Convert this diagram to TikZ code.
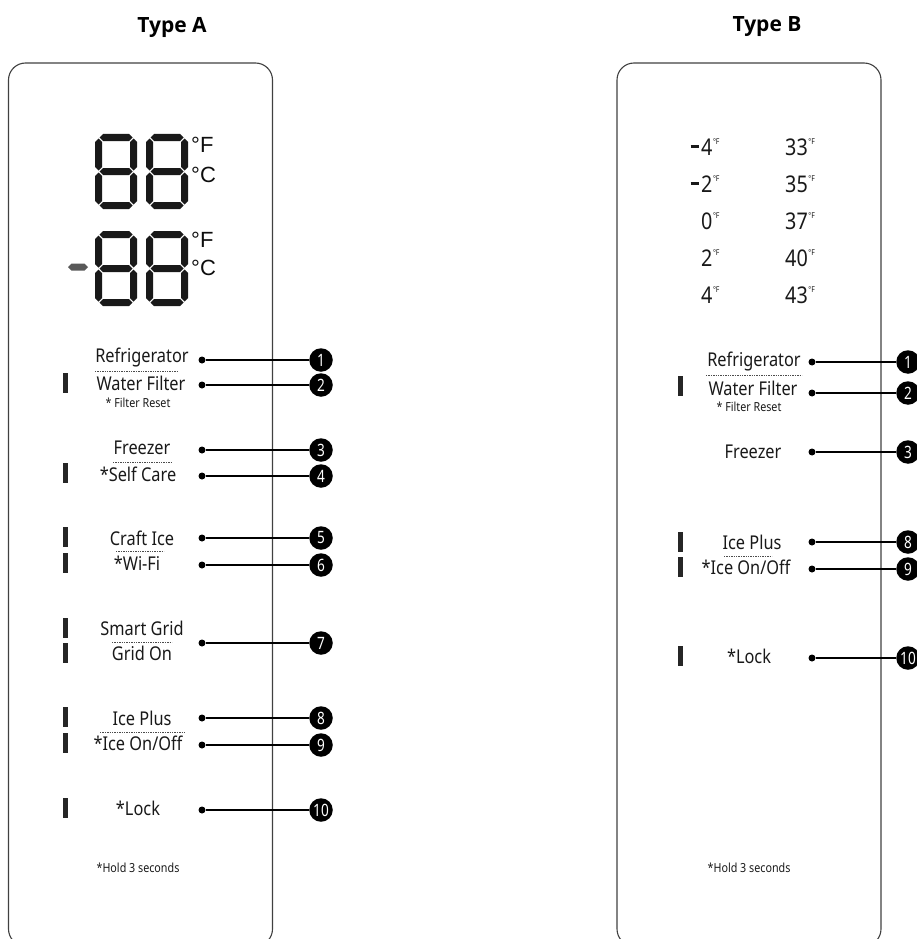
\documentclass[tikz,border=0pt]{standalone}
\usepackage{fontspec}
\newfontfamily\lblfont[FakeStretch=0.86]{Noto Sans}
\newfontfamily\numfont[FakeStretch=0.8]{Noto Sans}
\newfontfamily\titlefont{Open Sans}
\newfontfamily\lcdfont{Liberation Sans}
\newcommand{\hseg}[1]{\fill[segment] (4.5,#1) -- ++(3.5,-3.5) -- ++(26,0) -- ++(3.5,3.5) -- ++(-3.5,3.5) -- ++(-26,0) -- cycle;}
\newcommand{\vseg}[2]{\fill[segment] (#1,#2) -- ++(3.5,3.5) -- ++(0,25) -- ++(-3.5,3.5) -- ++(-3.5,-3.5) -- ++(0,-25) -- cycle;}
\newcommand{\lcddigit}[2]{%
  \begin{scope}[shift={(#1,#2)}]
    \hseg{3.5}\hseg{37.5}\hseg{71.5}
    \vseg{3.5}{4.5}\vseg{3.5}{38.5}\vseg{38.5}{4.5}\vseg{38.5}{38.5}
  \end{scope}}
\newcommand{\degF}{\kern0.5pt\raisebox{11pt}{\fontsize{8}{8}\selectfont °F}}
\newcommand{\tempminus}{\llap{\rule[7pt]{8.5pt}{3pt}\kern2pt}}

\begin{document}
\begin{tikzpicture}[x=1pt,y=-1pt]
\tikzstyle{panel}=[draw=black!75,line width=1.1pt,rounded corners=17pt]
\tikzstyle{segment}=[fill=black!90]
\tikzstyle{minusseg}=[fill=black!65]
\tikzstyle{title}=[inner sep=0pt,font=\titlefont\bfseries\fontsize{21}{24}\selectfont]
\tikzstyle{lbl}=[inner sep=0pt,text=black!90,font=\lblfont\fontsize{19}{22}\selectfont]
\tikzstyle{small}=[inner sep=0pt,text=black!90,font=\lblfont\fontsize{12.5}{14}\selectfont]
\tikzstyle{temp}=[inner sep=0pt,anchor=base west,text=black!90,font=\lblfont\fontsize{23}{25}\selectfont]
\tikzstyle{lcd}=[inner sep=0pt,anchor=west,text=black!95,font=\lcdfont\fontsize{22}{24}\selectfont]
\tikzstyle{bar}=[fill=black!85,minimum width=5pt,minimum height=20pt,inner sep=0pt]
\tikzstyle{dot}=[circle,fill=black,minimum size=7pt,inner sep=0pt]
\tikzstyle{num}=[circle,fill=black,text=white,minimum size=23.5pt,inner sep=0pt,font=\numfont\bfseries\fontsize{17}{17}\selectfont]
\tikzstyle{lead}=[draw,line width=1.6pt]
\tikzstyle{sep}=[draw=black!70,line width=0.6pt,dash pattern=on 1.4pt off 1pt]

\clip (0,0) rectangle (917,939);

% panels and titles
\draw[panel] (8.5,63) rectangle (272.5,946);
\draw[panel] (617,63) rectangle (881,946);
\node[title] (typeA) at (172,27) {Type A};
\node[title] (typeB) at (767,27) {Type B};

% Type A display
\lcddigit{95}{134}
\lcddigit{146}{134}
\lcddigit{95}{231}
\lcddigit{146}{231}
\fill[minusseg] (68,267) -- ++(3.5,-3.5) -- ++(13,0) -- ++(3.5,3.5) -- ++(-3.5,3.5) -- ++(-13,0) -- cycle;
\node[lcd] (fA1) at (191,145) {°F};
\node[lcd] (cA1) at (191,175) {°C};
\node[lcd] (fA2) at (191,240) {°F};
\node[lcd] (cA2) at (191,268) {°C};

% Type A buttons
\node[lbl] (refA) at (142,358) {Refrigerator};
\node[lbl] (wfA) at (141,383) {Water Filter};
\node[small] (frA) at (138,403) {* Filter Reset};
\node[lbl] (fzA) at (142,448) {Freezer};
\node[lbl] (scA) at (138,474) {*Self Care};
\node[lbl] (ciA) at (142,538) {Craft Ice};
\node[lbl] (wiA) at (137,563) {*Wi-Fi};
\node[lbl] (sgA) at (142,628) {Smart Grid};
\node[lbl] (goA) at (142,653) {Grid On};
\node[lbl] (ipA) at (142,718) {Ice Plus};
\node[lbl] (ioA) at (138,743) {*Ice On/Off};
\node[lbl] (lkA) at (138,808) {*Lock};
\node[small] (holdA) at (138,868) {*Hold 3 seconds};

\draw[sep] (95,371) -- (178,371);
\draw[sep] (113,462) -- (172,462);
\draw[sep] (116,551) -- (164,551);
\draw[sep] (112,642) -- (172,642);
\draw[sep] (100,732) -- (185,732);

\node[bar] (bA2) at (65,383) {};
\node[bar] (bA4) at (65,473) {};
\node[bar] (bA5) at (65,537) {};
\node[bar] (bA6) at (65,563) {};
\node[bar] (bA7a) at (65,628) {};
\node[bar] (bA7b) at (65,653) {};
\node[bar] (bA8) at (65,717) {};
\node[bar] (bA9) at (65,743) {};
\node[bar] (bA10) at (65,808) {};

\node[dot] (dA1) at (202,360) {};
\node[dot] (dA2) at (202,385) {};
\node[dot] (dA3) at (202,450) {};
\node[dot] (dA4) at (202,476) {};
\node[dot] (dA5) at (202,538) {};
\node[dot] (dA6) at (202,565) {};
\node[dot] (dA7) at (202,643) {};
\node[dot] (dA8) at (202,718) {};
\node[dot] (dA9) at (202,745) {};
\node[dot] (dA10) at (202,810) {};

\node[num] (nA1) at (321,360) {1};
\node[num] (nA2) at (321,385) {2};
\node[num] (nA3) at (321,450) {3};
\node[num] (nA4) at (321,476) {4};
\node[num] (nA5) at (321,538) {5};
\node[num] (nA6) at (321,565) {6};
\node[num] (nA7) at (321,643) {7};
\node[num] (nA8) at (321,718) {8};
\node[num] (nA9) at (321,745) {9};
\node[num] (nA10) at (321,810) {10};

\path (dA1) edge[lead] (nA1);
\path (dA2) edge[lead] (nA2);
\path (dA3) edge[lead] (nA3);
\path (dA4) edge[lead] (nA4);
\path (dA5) edge[lead] (nA5);
\path (dA6) edge[lead] (nA6);
\path (dA7) edge[lead] (nA7);
\path (dA8) edge[lead] (nA8);
\path (dA9) edge[lead] (nA9);
\path (dA10) edge[lead] (nA10);

% Type B temperatures
\node[temp] (tl1) at (701,155) {\tempminus4\degF};
\node[temp] (tl2) at (701,192) {\tempminus2\degF};
\node[temp] (tl3) at (701,229) {0\degF};
\node[temp] (tl4) at (701,266) {2\degF};
\node[temp] (tl5) at (701,303) {4\degF};
\node[temp] (tr1) at (785,155) {33\degF};
\node[temp] (tr2) at (785,192) {35\degF};
\node[temp] (tr3) at (785,229) {37\degF};
\node[temp] (tr4) at (785,266) {40\degF};
\node[temp] (tr5) at (785,303) {43\degF};

% Type B buttons
\node[lbl] (refB) at (754,362) {Refrigerator};
\node[lbl] (wfB) at (753,388) {Water Filter};
\node[small] (frB) at (749,407) {* Filter Reset};
\node[lbl] (fzB) at (753,452) {Freezer};
\node[lbl] (ipB) at (752,542) {Ice Plus};
\node[lbl] (ioB) at (746,567) {*Ice On/Off};
\node[lbl] (lkB) at (749,656) {*Lock};
\node[small] (holdB) at (749,868) {*Hold 3 seconds};

\draw[sep] (706,375) -- (802,375);
\draw[sep] (724,556) -- (772,556);

\node[bar] (bB2) at (680,386) {};
\node[bar] (bB8) at (680,542) {};
\node[bar] (bB9) at (680,567) {};
\node[bar] (bB10) at (680,656) {};

\node[dot] (dB1) at (812,362) {};
\node[dot] (dB2) at (812,393) {};
\node[dot] (dB3) at (812,452) {};
\node[dot] (dB8) at (812,542) {};
\node[dot] (dB9) at (812,569) {};
\node[dot] (dB10) at (812,658) {};

\node[num] (nB1) at (908,362) {1};
\node[num] (nB2) at (908,393) {2};
\node[num] (nB3) at (908,452) {3};
\node[num] (nB8) at (908,542) {8};
\node[num] (nB9) at (908,569) {9};
\node[num] (nB10) at (908,658) {10};

\path (dB1) edge[lead] (nB1);
\path (dB2) edge[lead] (nB2);
\path (dB3) edge[lead] (nB3);
\path (dB8) edge[lead] (nB8);
\path (dB9) edge[lead] (nB9);
\path (dB10) edge[lead] (nB10);
\end{tikzpicture}
\end{document}
